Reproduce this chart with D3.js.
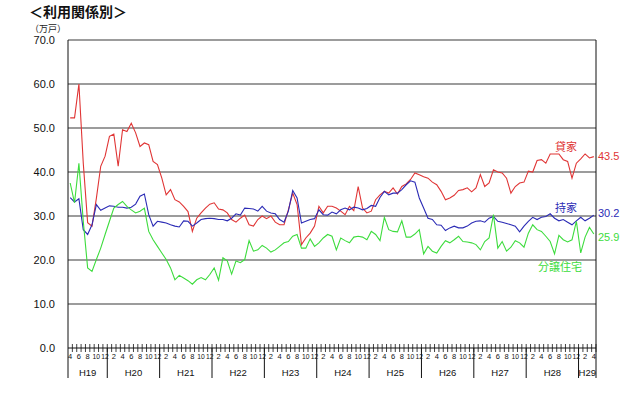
<!DOCTYPE html>
<html>
<head>
<meta charset="utf-8">
<script src="https://cdn.jsdelivr.net/npm/d3@7/dist/d3.min.js"></script>
<style>
  body { margin: 0; background: #fff; }
  text { font-family: "Liberation Sans", Arial, sans-serif; }
  .jp { font-family: "Noto Sans CJK JP", sans-serif; }
</style>
</head>
<body>
<svg id="chart" width="640" height="394"></svg>
<script>
// fiscal label per calendar block, and how many months each block holds (H19.4 - H29.4)
var years = ['H19','H20','H21','H22','H23','H24','H25','H26','H27','H28','H29'];
var yearMonths = [9,12,12,12,12,12,12,12,12,12,4];
var firstMonth = 4;

var yTicks = [0,10,20,30,40,50,60,70];

// 貸家
var kashiya = [52.3,52.3,60,42,28.5,27.7,34,41.3,43.6,48.1,48.6,41.3,49.6,49.2,51.1,48.9,45.8,46.6,46.2,42.4,41.7,38.6,34.8,36,33.7,33.2,32.2,31,26.5,29.5,30.7,
  31.8,32.7,33,31.6,31.4,30.7,29.2,28.6,29.5,30.2,28,27.7,29.2,30,29.4,30,28.6,28,28,31.4,35.2,32.6,23.5,25,26.1,27.7,32.2,30.7,32.2,32.2,
  31.8,31.1,30.3,32.2,31.2,36.7,31.8,30.7,31.1,33.7,34.8,35.6,35.2,36.4,35,36.7,37.3,38.3,39.8,39.4,38.9,38.6,37.7,37.1,35.6,33.7,34.1,34.7,35.8,36,
  36.4,35.5,36.4,39.4,36.7,37.5,40.5,40,39.8,38.6,35.2,36.7,37.5,37.7,40.2,40,42.6,42.8,42,44.1,44.1,44.1,42.8,42.4,38.6,42,43,44.1,43.2,43.5];
// 持家
var mochiie = [34.2,33.2,33.9,26.9,25.8,28,32.6,31.3,31.8,32.3,32.2,32,32,31.8,32,32.7,34.5,35,30.3,27.7,28.8,28.6,28.4,28,27.7,27.5,28.9,28.8,27.7,28.4,29.2,
  29.4,29.5,29.4,29.2,29.2,28.9,29.5,30.5,30.2,31.8,31.7,31.6,31.1,32.2,31.1,30.7,30.5,29.2,28.6,31.1,35.8,34.1,28.4,28.8,29.2,29.4,31.4,30.3,30.2,30.9,
  30.5,31.4,31.8,31.4,32,31.8,31.4,31.7,32.4,32.2,34.2,35.6,34.8,35.2,35.2,36,37.1,38,37.7,34.1,31.8,29.5,29.2,28,27.9,26.7,27.3,27.7,27.3,27.3,
  27.7,28.4,28.8,28.9,28.6,29.5,29.9,28.8,28.6,28.3,28,27.7,26.4,27.7,28.8,29.7,29.2,29.7,29.9,30.5,29.5,28.9,29.2,28.6,28,28.9,29.7,28.9,29.5,30.2];
// 分譲住宅
var bunjo = [37.5,33,42,28.8,18.2,17.4,20.1,22.7,25.8,28.8,31.8,32.6,33.3,32.2,31.4,30.7,31.1,31.8,26.5,24.6,23.1,21.6,20.1,18.2,15.5,16.5,15.9,15.3,14.5,15.5,16,
  15.5,16.7,18.2,15.4,20.5,19.8,16.8,19.8,19.4,20.1,24.4,22,22.3,23.3,22.7,21.8,22.3,23.1,23.9,24.2,25.4,25.8,22.7,22.7,24.8,23.1,23.9,25,25.8,25.4,
  22.3,25,24.4,23.9,25.2,25.4,25.2,24.6,26.5,25.8,24.4,29.7,26.9,26.5,26.4,28.9,25.2,25.2,25.9,26.9,21.4,23.1,22,21.6,23.1,24.4,23.9,24.6,25.4,24.2,
  24.1,23.9,23.5,22.3,24.2,25,30.3,22.7,24.2,22,22.9,24.4,23.9,22.9,26.1,28,26.9,26.5,25.4,24.2,21.4,25.6,24.6,24.1,24.6,28.8,21.6,25.2,27.4,25.9];

var series = [
  {name: '貸家', values: kashiya, color: '#e03535', lx: 566, ly: 147, vy: 156},
  {name: '持家', values: mochiie, color: '#2b2bb5', lx: 566, ly: 208, vy: 213},
  {name: '分譲住宅', values: bunjo, color: '#3ddc3d', lx: 560, ly: 267, vy: 237}
];

var L = 68, R = 596, T = 40, B = 348, AXB = 378;
var svg = d3.select('#chart');

// month list built from year blocks
var months = [];
years.forEach(function(y, yi){
  var start = yi === 0 ? firstMonth : 1;
  for (var k = 0; k < yearMonths[yi]; k++) months.push({year: y, m: start + k, key: y + '-' + (start + k)});
});

var x = d3.scaleBand().domain(months.map(function(d){ return d.key; })).range([L, R]);
var y = d3.scaleLinear().domain([0, 70]).range([B, T]);

// title
svg.append('text').attr('class','jp').attr('x', 29).attr('y', 17)
  .attr('font-size', 14).attr('font-weight', 'bold').attr('fill', '#111').text('＜利用関係別＞');
svg.append('text').attr('class','jp').attr('x', 30).attr('y', 32)
  .attr('font-size', 9).attr('fill', '#222').text('（万戸）');

// grid
svg.append('g').selectAll('line').data(yTicks.filter(function(d){ return d > 0; })).enter().append('line')
  .attr('x1', L).attr('x2', R).attr('y1', function(d){ return y(d); }).attr('y2', function(d){ return y(d); })
  .attr('stroke', '#3a3a3a').attr('stroke-width', 1.2);

// y labels
svg.append('g').selectAll('text').data(yTicks).enter().append('text')
  .attr('x', 55).attr('y', function(d){ return y(d) + 4; })
  .attr('text-anchor', 'end').attr('font-size', 11).attr('fill', '#111')
  .text(function(d){ return d3.format('.1f')(d); });

// frame
svg.append('line').attr('x1', L).attr('x2', L).attr('y1', T).attr('y2', AXB).attr('stroke', '#111');
svg.append('line').attr('x1', R).attr('x2', R).attr('y1', T).attr('y2', AXB).attr('stroke', '#111');
svg.append('line').attr('x1', L).attr('x2', R).attr('y1', B).attr('y2', B).attr('stroke', '#111');

// month ticks
var bw = x.bandwidth();
svg.append('g').selectAll('line').data(months).enter().append('line')
  .attr('x1', function(d){ return x(d.key) + bw; }).attr('x2', function(d){ return x(d.key) + bw; })
  .attr('y1', B - 4).attr('y2', B + 4).attr('stroke', '#111').attr('stroke-width', 0.8);

// month labels (even months)
svg.append('g').selectAll('text').data(months.filter(function(d){ return d.m % 2 === 0; })).enter().append('text')
  .attr('x', function(d){ return x(d.key) + bw / 2; }).attr('y', 359)
  .attr('text-anchor', 'middle').attr('font-size', 7.5).attr('fill', '#111')
  .attr('textLength', function(d){ return d.m >= 10 ? 7.5 : null; })
  .attr('lengthAdjust', 'spacingAndGlyphs')
  .text(function(d){ return d.m; });

// year separators and labels
var yearSpans = years.map(function(yr){
  var ms = months.filter(function(d){ return d.year === yr; });
  return {year: yr, x0: x(ms[0].key), x1: x(ms[ms.length - 1].key) + bw};
});
svg.append('g').selectAll('line').data(yearSpans.slice(0, -1)).enter().append('line')
  .attr('x1', function(d){ return d.x1; }).attr('x2', function(d){ return d.x1; })
  .attr('y1', B).attr('y2', AXB).attr('stroke', '#111');
svg.append('g').selectAll('text').data(yearSpans).enter().append('text')
  .attr('x', function(d){ return (d.x0 + d.x1) / 2; }).attr('y', 376)
  .attr('text-anchor', 'middle').attr('font-size', 9.5).attr('fill', '#111')
  .text(function(d){ return d.year; });

// lines
var line = d3.line()
  .x(function(d, i){ return x(months[i].key) + bw / 2; })
  .y(function(d){ return y(d); });

series.forEach(function(s){
  svg.append('path').datum(s.values).attr('d', line)
    .attr('fill', 'none').attr('stroke', s.color).attr('stroke-width', 1.1);
  svg.append('text').attr('class','jp').attr('x', s.lx).attr('y', s.ly + 4)
    .attr('text-anchor', 'middle').attr('font-size', 11).attr('fill', s.color).text(s.name);
  svg.append('text').attr('x', 598).attr('y', s.vy + 4)
    .attr('font-size', 11).attr('fill', s.color)
    .text(d3.format('.1f')(s.values[s.values.length - 1]));
});
</script>
</body>
</html>
